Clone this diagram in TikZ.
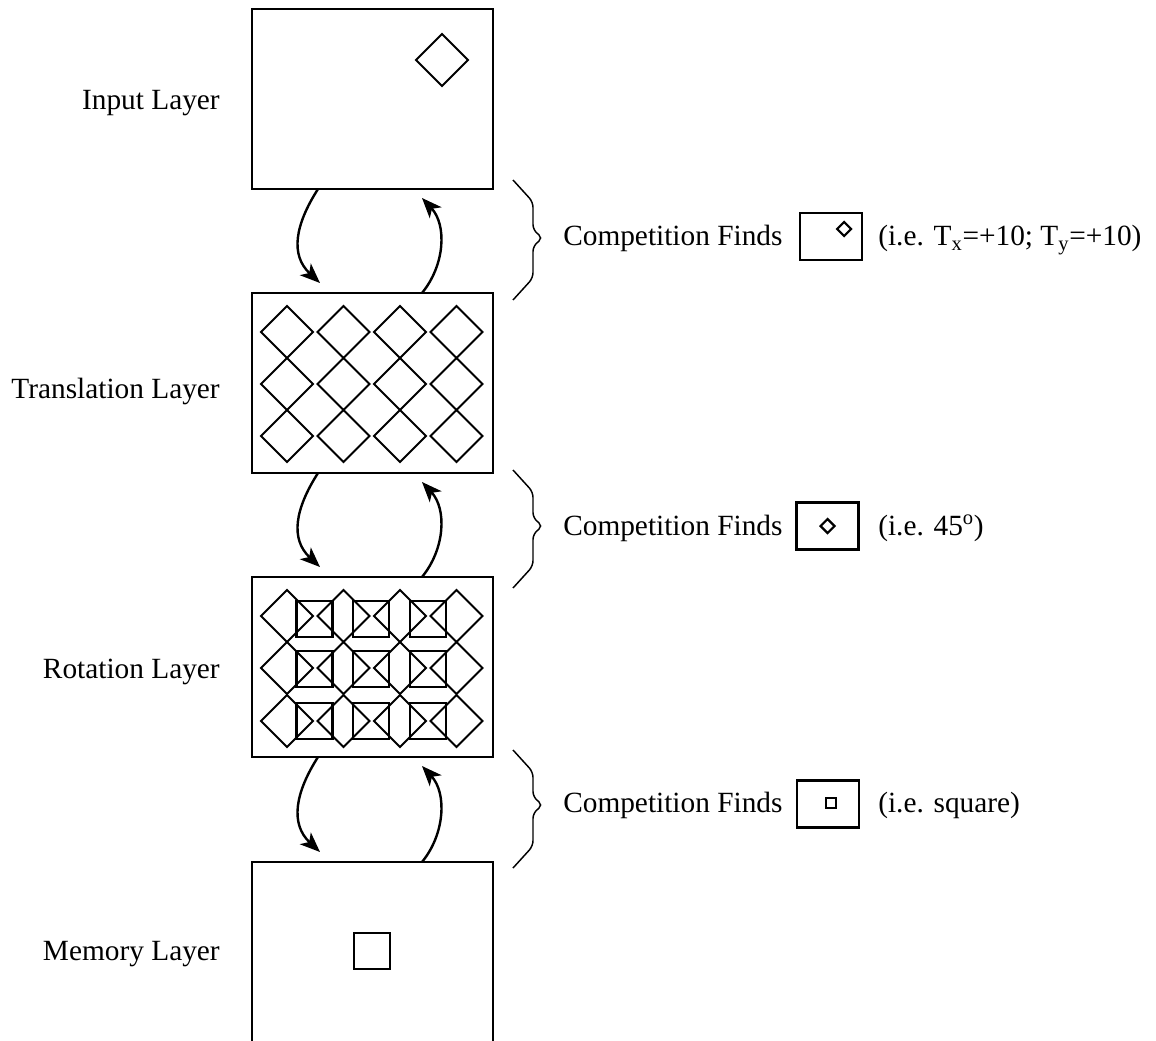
\documentclass[tikz,border=0pt]{standalone}
\usepackage{fontspec}
\setmainfont{Liberation Serif}
\usetikzlibrary{arrows.meta,calc}

\begin{document}
\begin{tikzpicture}[x=0.75pt,y=-0.75pt,
  layerbox/.style={draw, line width=2pt, minimum width=180.75pt, minimum height=135pt, inner sep=0pt, outer sep=0pt},
  layername/.style={font=\fontsize{22}{26}\selectfont, inner sep=0pt, anchor=base east},
  txt/.style={font=\fontsize{22}{26}\selectfont, inner sep=0pt, anchor=base west},
  mini/.style={draw, line width=1.7pt, minimum width=46.5pt, minimum height=35.25pt, inner sep=0pt},
  tile/.style={line width=1.4pt},
  sq/.style={line width=1.6pt},
  flow/.style={line width=1.8pt, -{Stealth[length=15pt,width=12pt,inset=4pt]}},
  bracepath/.style={line width=1.1pt, rounded corners=4pt},
]
\useasboundingbox (0,0) rectangle (1156,1041);
\clip (0,0) rectangle (1156,1041);

% the four layers
\node[layerbox] (inp)   at (372.5,99)  {};
\node[layerbox] (trans) at (372.5,383) {};
\node[layerbox] (rot)   at (372.5,667) {};
\node[layerbox] (mem)   at (372.5,952) {};

\node[layername] (linp)   at (220,110) {Input Layer};
\node[layername] (ltrans) at (220,398) {Translation Layer};
\node[layername] (lrot)   at (220,678) {Rotation Layer};
\node[layername] (lmem)   at (220,960) {Memory Layer};

% input pattern
\draw[tile] ($(inp.center)+(69.5,-39)$) +(0,-26) -- +(26,0) -- +(0,26) -- +(-26,0) -- cycle;

% translation layer: grid of shifted diamonds
\foreach \c in {-85.5,-29,27.5,84}
  \foreach \r in {-51,1,53}
    \draw[tile] ($(trans.center)+(\c,\r)$) +(0,-26) -- +(26,0) -- +(0,26) -- +(-26,0) -- cycle;

% rotation layer: diamonds with squares between them
\foreach \c in {-85.5,-29,27.5,84}
  \foreach \r in {-51,1,54}
    \draw[tile] ($(rot.center)+(\c,\r)$) +(0,-26) -- +(26,0) -- +(0,26) -- +(-26,0) -- cycle;
\foreach \c in {-58,-1.5,55.5}
  \foreach \r in {-48,2,54}
    \draw[sq] ($(rot.center)+(\c,\r)$) +(-18,-18) rectangle +(18,18);

% memory pattern
\draw[sq] ($(mem.center)+(-0.5,-1)$) +(-18,-18) rectangle +(18,18);

% feed-forward and feedback arrows between neighbouring layers
\foreach \a/\b in {inp/trans, trans/rot, rot/mem} {
  \draw[flow] ($(\a.south west)+(66,0)$) .. controls +(-23,36) and +(-30,-28) .. ($(\b.north west)+(68,-10)$);
  \draw[flow] ($(\b.north west)+(170,0)$) .. controls +(23,-28) and +(25,27) .. ($(\a.south west)+(170,9)$);
}

% braces
\foreach \ya/\yb/\ym in {180/300/238, 470/588/526, 750/868/805}
  \draw[bracepath] (513,\ya) -- (533,\ya+22) -- (533,\ym-8) -- (543,\ym) -- (533,\ym+8) -- (533,\yb-22) -- (513,\yb);

% competition results
\node[txt] (c1) at (563,246) {Competition Finds};
\node[mini] (m1) at (831,236.5) {};
\draw[sq] ($(m1.center)+(13,-7.5)$) +(0,-7) -- +(7,0) -- +(0,7) -- +(-7,0) -- cycle;
\node[txt] (e1) at (878,246) {(i.e. T\textsubscript{x}=+10; T\textsubscript{y}=+10)};

\node[txt] (c2) at (563,535) {Competition Finds};
\node[mini] (m2) at (827.5,526) {};
\draw[sq] (m2.center) +(0,-7) -- +(7,0) -- +(0,7) -- +(-7,0) -- cycle;
\node[txt] (e2) at (878,535) {(i.e. 45\textsuperscript{o})};

\node[txt] (c3) at (563,812) {Competition Finds};
\node[mini] (m3) at (828,804) {};
\draw[sq] ($(m3.center)+(3,-1)$) +(-5,-5) rectangle +(5,5);
\node[txt] (e3) at (878,812) {(i.e. square)};
\end{tikzpicture}
\end{document}
